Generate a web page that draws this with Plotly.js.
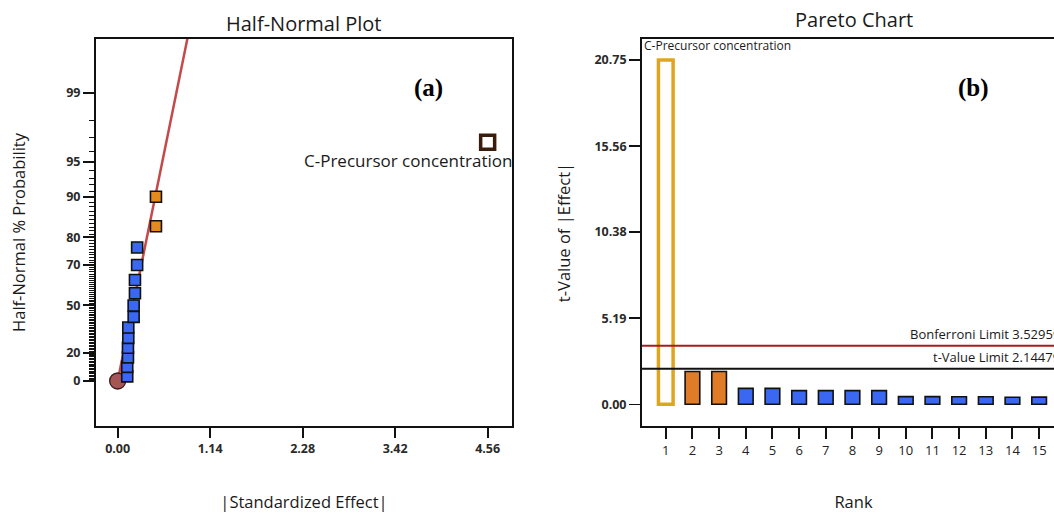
<!DOCTYPE html>
<html>
<head>
<meta charset="utf-8">
<script src="https://cdn.plot.ly/plotly-3.0.1.min.js"></script>
<style>
  html, body { margin: 0; padding: 0; background: #ffffff; overflow: hidden; }
  #chart { width: 1070px; height: 513px; }
</style>
</head>
<body>
<div id="chart"></div>
<script>
// ---------- Data ----------
// Half-normal plot: |standardized effect| and half-normal % probability
const halfNormalEffect = [0.118, 0.118, 0.127, 0.127, 0.131, 0.131, 0.197, 0.197, 0.213, 0.213, 0.240, 0.240, 0.472, 0.472, 4.56];
const halfNormalPct    = [3.3, 10, 16.7, 23.3, 30, 36.7, 43.3, 50, 56.7, 63.3, 70, 76.7, 83.3, 90, 96.7];
const halfNormalSign   = [-1, -1, -1, -1, -1, -1, -1, -1, -1, -1, -1, -1, 1, 1, 1];
const errorEffect = [0];
const errorPct    = [0];
const fitLineEffect = [0, 0.925];
const fitLinePct    = [0, 99.9];
const majorPctTicks = [0, 20, 50, 70, 80, 90, 95, 99];
const effectTicks   = [0, 1.14, 2.28, 3.42, 4.56];
const labelledTerm  = 'C-Precursor concentration';

// Pareto chart
const ranks   = [1, 2, 3, 4, 5, 6, 7, 8, 9, 10, 11, 12, 13, 14, 15];
const tValues = [20.75, 1.98, 1.98, 0.96, 0.96, 0.82, 0.82, 0.82, 0.82, 0.46, 0.46, 0.45, 0.45, 0.42, 0.43];
const paretoSign = [1, 1, 1, -1, -1, -1, -1, -1, -1, -1, -1, -1, -1, -1, -1];
const tTicks  = [0, 5.19, 10.38, 15.56, 20.75];
const bonferroniLimit = 3.52959;
const tValueLimit     = 2.14479;

// ---------- Half-normal probability scale ----------
function probit(p) {
  const a = [-3.969683028665376e+01, 2.209460984245205e+02, -2.759285104469687e+02, 1.383577518672690e+02, -3.066479806614716e+01, 2.506628277459239e+00];
  const b = [-5.447609879822406e+01, 1.615858368580409e+02, -1.556989798598866e+02, 6.680131188771972e+01, -1.328068155922547e+01];
  const c = [-7.784894002430293e-03, -3.223964580411365e-01, -2.400758277161838e+00, -2.549732539343734e+00, 4.374664141464968e+00, 2.938163982698783e+00];
  const d = [7.784695709041462e-03, 3.224671290700398e-01, 2.445134137142996e+00, 3.754408661907416e+00];
  const pl = 0.02425, ph = 1 - pl;
  let q, r;
  if (p < pl) {
    q = Math.sqrt(-2 * Math.log(p));
    return (((((c[0]*q+c[1])*q+c[2])*q+c[3])*q+c[4])*q+c[5]) / ((((d[0]*q+d[1])*q+d[2])*q+d[3])*q+1);
  }
  if (p <= ph) {
    q = p - 0.5; r = q * q;
    return (((((a[0]*r+a[1])*r+a[2])*r+a[3])*r+a[4])*r+a[5])*q / (((((b[0]*r+b[1])*r+b[2])*r+b[3])*r+b[4])*r+1);
  }
  q = Math.sqrt(-2 * Math.log(1 - p));
  return -(((((c[0]*q+c[1])*q+c[2])*q+c[3])*q+c[4])*q+c[5]) / ((((d[0]*q+d[1])*q+d[2])*q+d[3])*q+1);
}
function hn(pct) { return probit(0.5 + pct / 200); }

const minorPct = [];
for (let p = 1; p <= 99; p++) if (majorPctTicks.indexOf(p) < 0) minorPct.push(p);

// ---------- Styles ----------
const BLUE = '#3a68f2';
const ORANGE_PT = '#e58a1c';
const ORANGE_BAR = '#e07b27';
const GOLD = '#e0a51e';
const INK = '#111111';
const FONT = 'Open Sans, Noto Sans, sans-serif';

const nPts = halfNormalEffect.length;
const ptColor = halfNormalSign.map((s, i) => i === nPts - 1 ? '#ffffff' : (s > 0 ? ORANGE_PT : BLUE));
const ptLine  = halfNormalSign.map((s, i) => i === nPts - 1 ? '#3a1c0c' : '#111111');
const ptLineW = halfNormalSign.map((s, i) => i === nPts - 1 ? 3.5 : 1.6);
const ptSize  = halfNormalSign.map((s, i) => i === nPts - 1 ? 14 : 11);

const barColor = paretoSign.map((s, i) => i === 0 ? '#ffffff' : (s > 0 ? ORANGE_BAR : BLUE));
const barLine  = paretoSign.map((s, i) => i === 0 ? GOLD : '#111111');
const barLineW = paretoSign.map((s, i) => i === 0 ? 3.5 : 1.6);

// ---------- Traces ----------
const traces = [
  {
    type: 'scatter', mode: 'lines', x: fitLineEffect, y: fitLinePct.map(hn),
    line: { color: '#c44a4a', width: 2.5 }, xaxis: 'x', yaxis: 'y', hoverinfo: 'skip'
  },
  {
    type: 'scatter', mode: 'markers', x: errorEffect, y: errorPct.map(hn),
    marker: { symbol: 'circle', size: 16, color: '#a65555', opacity: 1, line: { color: '#3a1a1a', width: 1.3 } },
    xaxis: 'x', yaxis: 'y'
  },
  {
    type: 'scatter', mode: 'markers', x: halfNormalEffect, y: halfNormalPct.map(hn),
    marker: { symbol: 'square', size: ptSize, color: ptColor, opacity: 1, line: { color: ptLine, width: ptLineW } },
    xaxis: 'x', yaxis: 'y'
  },
  {
    type: 'bar', x: ranks, y: tValues, width: 0.55,
    marker: { color: barColor, opacity: 1, line: { color: barLine, width: barLineW } },
    xaxis: 'x2', yaxis: 'y2'
  }
];

const tickFontBold = { family: FONT, size: 12.5, color: '#2a2a2a', weight: 'bold' };
const titleFont = { family: FONT, size: 16.5, color: '#1a1a1a' };

const layout = {
  width: 1070, height: 513,
  margin: { l: 96, r: 5, t: 39, b: 87 },
  paper_bgcolor: '#ffffff', plot_bgcolor: '#ffffff',
  showlegend: false,
  font: { family: FONT, color: '#1a1a1a' },
  xaxis: {
    domain: [0, 0.4293], range: [-0.267, 4.86],
    tickmode: 'array', tickvals: effectTicks, ticktext: effectTicks.map(v => v.toFixed(2)),
    ticks: 'outside', ticklen: 10, tickwidth: 2, tickcolor: INK,
    showline: true, mirror: true, linewidth: 2, linecolor: INK,
    showgrid: false, zeroline: false, tickfont: tickFontBold,
    title: { text: '|Standardized Effect|', font: titleFont, standoff: 40 }
  },
  yaxis: {
    anchor: 'x', range: [-0.402, 3.054],
    tickmode: 'array', tickvals: majorPctTicks.map(hn), ticktext: majorPctTicks.map(String),
    ticks: 'outside', ticklen: 11, tickwidth: 2, tickcolor: INK,
    minor: { tickmode: 'array', tickvals: minorPct.map(hn), ticks: 'outside', ticklen: 5, tickwidth: 1, tickcolor: INK, showgrid: false },
    showline: true, mirror: true, linewidth: 2, linecolor: INK,
    showgrid: false, zeroline: false, tickfont: tickFontBold,
    title: { text: 'Half-Normal % Probability', font: titleFont, standoff: 36 }
  },
  xaxis2: {
    domain: [0.5635, 1], anchor: 'y2', range: [0.11, 15.97],
    tickmode: 'array', tickvals: ranks, ticktext: ranks.map(String),
    ticks: 'outside', ticklen: 11, tickwidth: 2, tickcolor: INK,
    showline: true, mirror: true, linewidth: 2, linecolor: INK,
    showgrid: false, zeroline: false,
    tickfont: { family: FONT, size: 13, color: '#222222' },
    title: { text: 'Rank', font: titleFont, standoff: 40 }
  },
  yaxis2: {
    anchor: 'x2', range: [-1.31, 22.02],
    tickmode: 'array', tickvals: tTicks, ticktext: tTicks.map(v => v.toFixed(2)),
    ticks: 'outside', ticklen: 11, tickwidth: 1.5, tickcolor: INK,
    showline: true, mirror: true, linewidth: 2, linecolor: INK,
    showgrid: false, zeroline: false, tickfont: tickFontBold,
    title: { text: 't-Value of |Effect|', font: titleFont, standoff: 20 }
  },
  shapes: [
    { type: 'line', xref: 'x2 domain', yref: 'y2', x0: 0, x1: 1, y0: bonferroniLimit, y1: bonferroniLimit,
      line: { color: '#a81c1c', width: 2 } },
    { type: 'line', xref: 'x2 domain', yref: 'y2', x0: 0, x1: 1, y0: tValueLimit, y1: tValueLimit,
      line: { color: '#111111', width: 2 } }
  ],
  annotations: [
    { text: 'Half-Normal Plot', xref: 'x domain', yref: 'paper', x: 0.5, y: 1, yanchor: 'bottom', yshift: 0,
      showarrow: false, font: { family: FONT, size: 20, color: '#1a1a1a' } },
    { text: 'Pareto Chart', xref: 'x2 domain', yref: 'paper', x: 0.5, y: 1, yanchor: 'bottom', yshift: 4,
      showarrow: false, font: { family: FONT, size: 20, color: '#1a1a1a' } },
    { text: '(a)', xref: 'x domain', yref: 'y domain', x: 0.84, y: 0.915, showarrow: false,
      font: { family: 'Liberation Serif, Times New Roman, serif', size: 25, color: '#000000', weight: 700 } },
    { text: '(b)', xref: 'x2 domain', yref: 'y2 domain', x: 0.825, y: 0.915, showarrow: false,
      font: { family: 'Liberation Serif, Times New Roman, serif', size: 25, color: '#000000', weight: 700 } },
    { text: labelledTerm, xref: 'x', yref: 'y', x: halfNormalEffect[nPts - 1], y: hn(halfNormalPct[nPts - 1]),
      xanchor: 'right', yanchor: 'middle', xshift: 26, yshift: -18, showarrow: false,
      font: { family: FONT, size: 17, color: '#1a1a1a' } },
    { text: labelledTerm, xref: 'x2', yref: 'y2', x: ranks[0], y: tValues[0],
      xanchor: 'left', yanchor: 'middle', xshift: -24, yshift: 15, showarrow: false,
      font: { family: FONT, size: 12, color: '#1a1a1a' } },
    { text: 'Bonferroni Limit ' + bonferroniLimit, xref: 'x2 domain', yref: 'y2', x: 1, y: bonferroniLimit,
      xanchor: 'right', yanchor: 'bottom', xshift: -3, yshift: 1, showarrow: false,
      font: { family: FONT, size: 13, color: '#1a1a1a' } },
    { text: 't-Value Limit ' + tValueLimit, xref: 'x2 domain', yref: 'y2', x: 1, y: tValueLimit,
      xanchor: 'right', yanchor: 'bottom', xshift: -3, yshift: 1, showarrow: false,
      font: { family: FONT, size: 13, color: '#1a1a1a' } }
  ]
};

Plotly.newPlot('chart', traces, layout, { displayModeBar: false, staticPlot: true });
</script>
</body>
</html>
